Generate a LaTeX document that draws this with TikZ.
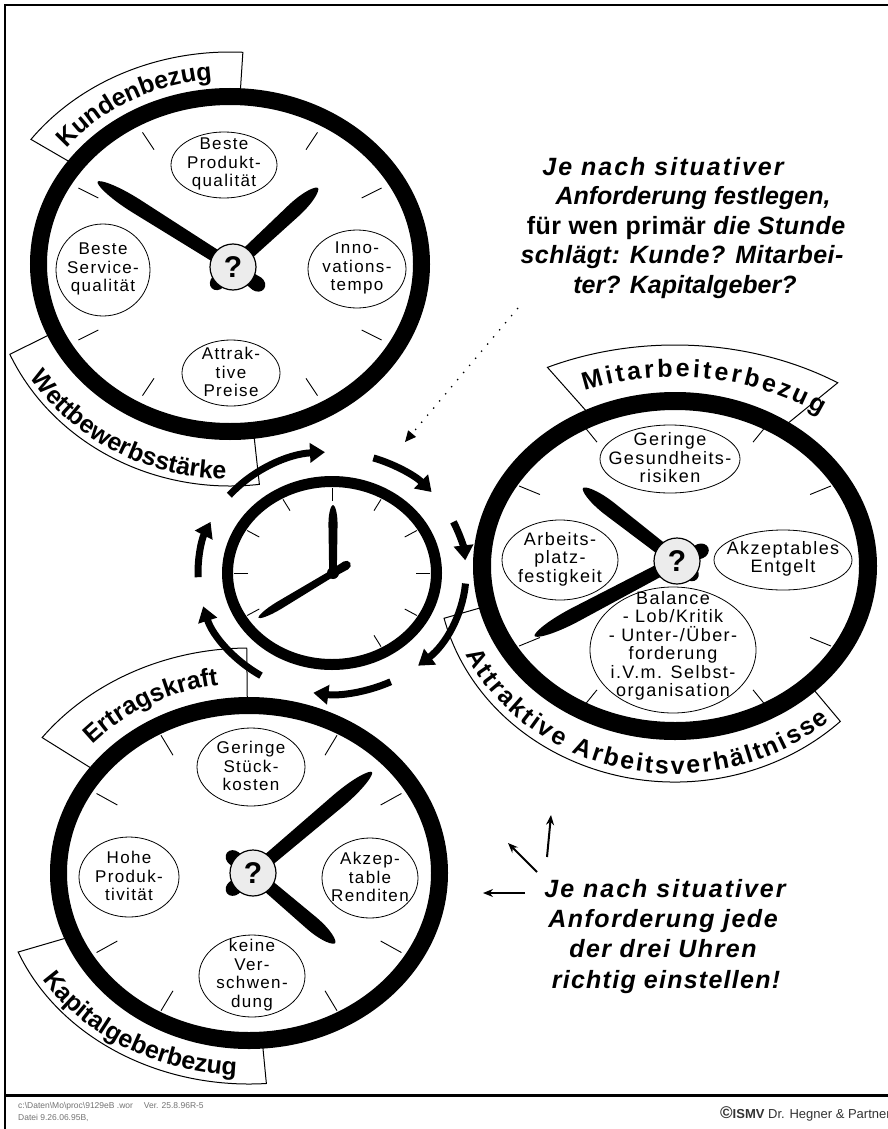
\documentclass[tikz,border=0pt]{standalone}
\usepackage{fontspec}
\setmainfont{Liberation Sans}
\usetikzlibrary{arrows.meta,decorations.text}
\newfontfamily\labfont[LetterSpace=8]{Liberation Sans}
\newfontfamily\bigfont[LetterSpace=2]{Liberation Sans}
\newfontfamily\plainsans{Liberation Sans}
\newcommand\bannerfnt{\fontsize{25}{25}\selectfont\plainsans\bfseries}
\newcommand\lsp[1]{\addfontfeature{LetterSpace=#1}}
% hand: #1 hub coordinate, #2 angle, #3 length, #4 half width
\newcommand\clockhand[4]{%
  \fill[shift={(#1)}, rotate=#2]
    (0,-#4) -- ({0.72*#3},{-1.2*#4})
    .. controls ({0.9*#3},{-1.2*#4}) and (#3,{-0.45*#4}) .. (#3,0)
    .. controls (#3,{0.45*#4}) and ({0.9*#3},{1.2*#4}) .. ({0.72*#3},{1.2*#4})
    -- (0,#4) -- cycle;}
% tail: #1 hub, #2 angle, #3 length
\newcommand\clocktail[3]{%
  \fill[shift={(#1)}, rotate=#2] (0,-5) -- ({#3-9},-7.5)
    arc[start angle=-90, end angle=90, x radius=9, y radius=7.5] -- (0,5) -- cycle;}
% banner: #1 centre, #2 t1, #3 t2, #4 outer rx, #5 outer ry, #6 inner rx, #7 inner ry
\newcommand\banner[7]{%
  \filldraw[banner, shift={(#1)}] (#2:#4 and #5)
    arc[start angle=#2, end angle=#3, x radius=#4, y radius=#5]
    -- (#3:#6 and #7)
    arc[start angle=#3, end angle=#2, x radius=#6, y radius=#7] -- cycle;}
% banner text: #1 centre, #2 t1, #3 t2, #4 rx, #5 ry, #6 alignment, #7 text
\newcommand\bannertext[7]{%
  \path[decorate, decoration={text along path, text={|\bannerfnt|#7}, text align={#6}}, shift={(#1)}]
    (#2:#4 and #5) arc[start angle=#2, end angle=#3, x radius=#4, y radius=#5];}
\begin{document}
\begin{tikzpicture}[x=1pt,y=1pt,
  banner/.style={draw, fill=white, line width=1},
  tickmark/.style={line width=0.9},
  labring/.style={line width=0.8},
  labtext/.style={align=center, inner sep=0, font=\labfont\fontsize{17}{18.5}\selectfont},
  labtextb/.style={align=center, inner sep=0, font=\labfont\fontsize{18}{18.5}\selectfont},
  hub/.style={circle, draw, line width=1.2, fill=gray!15, minimum size=46, inner sep=0,
    font=\plainsans\bfseries\fontsize{30}{30}\selectfont},
  cyc/.style={line width=7, -{Triangle[length=15pt,width=19pt]}},
  sarr/.style={line width=2, -{Stealth[length=10pt,width=8pt]}},
  bigtxt/.style={anchor=base, inner sep=0, font=\bigfont\bfseries\itshape\fontsize{25}{29.5}\selectfont}]
\useasboundingbox (0,0) rectangle (888,-1129);
\fill[white] (0,0) rectangle (888,-1129);
% frame
\draw[line width=2.5] (5,-1129) -- (5,-5) -- (888,-5);
\draw[line width=3] (5,-1095) -- (888,-1095);

\coordinate (C1) at (230,-264);
\coordinate (C2) at (675,-566);
\coordinate (C3) at (249,-873);
\coordinate (C0) at (332,-573);
\coordinate (H1) at (233,-267);
\coordinate (H2) at (677,-561);
\coordinate (H3) at (253,-873);
\coordinate (H0) at (333,-573);

% banners
\banner{C1}{144}{87}{246}{212}{196}{172}
\banner{C1}{204}{277}{241}{222}{196}{172}
\banner{C3}{143}{90.5}{259}{225}{195}{172}
\banner{C3}{202}{274}{249}{211}{195}{172}
\banner{C2}{116}{56}{291}{221}{198}{170}
\banner{C2}{194}{314}{238}{216}{198}{170}

\bannertext{C1}{150}{87}{209}{185}{center}{Kundenbezug}
\bannertext{C1}{200}{280}{235}{215}{center}{Wettbewerbsstärke}
\bannertext{C3}{145}{91}{213}{190}{center}{Ertragskraft}
\bannertext{C3}{200}{277}{242}{203}{center}{Kapitalgeberbezug}
\bannertext{C2}{112}{53}{242}{189}{fit to path}{Mitarbeiterbezug}
\bannertext{C2}{205}{312}{231}{208}{fit to path}{Attraktive Arbeitsverhältnisse}

% rings
\draw[line width=17] (C1) ellipse[x radius=191.5, y radius=167.5];
\draw[line width=18] (C2) ellipse[x radius=193, y radius=165];
\draw[line width=17] (C3) ellipse[x radius=190.5, y radius=167.5];
\draw[line width=11] (C0) ellipse[x radius=104.5, y radius=91.5];

% ticks
\foreach \a in {30,60,120,150,210,240,300,330}{
  \draw[tickmark, shift={(C1)}] (\a:152 and 132) -- (\a:175 and 152);
  \draw[tickmark, shift={(C2)}] (\a:156 and 143) -- (\a:180 and 160);
  \draw[tickmark, shift={(C3)}] (\a:152 and 136) -- (\a:176 and 159);
}
\foreach \a in {90,60,30,0,-30,-60,120,150,180,210}{
  \draw[tickmark, shift={(C0)}] (\a:84 and 72) -- (\a:98 and 85);
}

% label ellipses and texts, clock 1
\draw[labring] (224,-165) ellipse[x radius=53, y radius=33];
\node[labtext] (k1) at (224,-164) {Beste\\Produkt-\\qualität};
\draw[labring] (103,-270) ellipse[x radius=47, y radius=46];
\node[labtext] (k2) at (103,-269) {Beste\\Service-\\qualität};
\draw[labring] (357,-269) ellipse[x radius=49, y radius=39];
\node[labtext] (k3) at (357,-268) {Inno-\\vations-\\tempo};
\draw[labring] (231,-373) ellipse[x radius=49, y radius=33];
\node[labtext] (k4) at (231,-372) {Attrak-\\tive\\Preise};

% clock 2
\draw[labring] (670,-459) ellipse[x radius=70, y radius=34];
\node[labtextb] (m1) at (670,-458) {Geringe\\Gesundheits-\\risiken};
\draw[labring] (560,-560) ellipse[x radius=58, y radius=40];
\node[labtextb] (m2) at (560,-559) {Arbeits-\\platz-\\festigkeit};
\draw[labring] (783,-560) ellipse[x radius=69, y radius=30];
\node[labtextb] (m3) at (783,-559) {Akzeptables\\Entgelt};
\draw[labring] (673,-650) ellipse[x radius=83, y radius=63];
\node[labtextb] (m4) at (673,-646) {Balance\\- Lob/Kritik\\- Unter-/Über-\\forderung\\i.V.m. Selbst-\\organisation};

% clock 3
\draw[labring] (251,-767) ellipse[x radius=54, y radius=39];
\node[labtext] (e1) at (251,-766) {Geringe\\Stück-\\kosten};
\draw[labring] (129,-877) ellipse[x radius=50, y radius=40];
\node[labtext] (e2) at (129,-876) {Hohe\\Produk-\\tivität};
\draw[labring] (370,-878) ellipse[x radius=48, y radius=40];
\node[labtext] (e3) at (370,-877) {Akzep-\\table\\Renditen};
\draw[labring] (252,-976) ellipse[x radius=53, y radius=41];
\node[labtext] (e4) at (252,-975) {keine\\Ver-\\schwen-\\dung};

% hands
\clockhand{H1}{147.8}{160}{6.2}
\clockhand{H1}{42.9}{116}{6.2}
\clocktail{H1}{-35}{38}
\clocktail{H1}{-135}{30}
\clockhand{H2}{207.8}{161}{6.2}
\clockhand{H2}{142.2}{119}{6.2}
\clocktail{H2}{23}{34}
\clocktail{H2}{-42}{27}
\clockhand{H3}{40.3}{156}{6.2}
\clockhand{H3}{-40.5}{108}{6.2}
\clocktail{H3}{142}{33}
\clocktail{H3}{218}{33}
\clockhand{H0}{90}{68}{3.8}
\clockhand{H0}{211}{87}{3.4}
\fill[shift={(H0)}, rotate=30.5] (0,-4) -- (15,-4.5) arc[start angle=-90, end angle=90, x radius=5, y radius=4.5] -- (0,4) -- cycle;
\fill (H0) circle (6);

\node[hub] (q1) at (H1) {?};
\node[hub] (q2) at (H2) {?};
\node[hub] (q3) at (H3) {?};

% cycle arrows around central clock
\draw[cyc, shift={(C0)}] (140:134 and 121) arc[start angle=140, end angle=93, x radius=134, y radius=121];
\draw[cyc, shift={(C0)}] (72:134 and 121) arc[start angle=72, end angle=42, x radius=134, y radius=121];
\draw[cyc, shift={(C0)}] (25:134 and 121) arc[start angle=25, end angle=6, x radius=134, y radius=121];
\draw[cyc, shift={(C0)}] (-5:134 and 121) arc[start angle=-5, end angle=-50, x radius=134, y radius=121];
\draw[cyc, shift={(C0)}] (-64:134 and 121) arc[start angle=-64, end angle=-98, x radius=134, y radius=121];
\draw[cyc, shift={(C0)}] (-122:134 and 121) arc[start angle=-122, end angle=-164, x radius=134, y radius=121];
\draw[cyc, shift={(C0)}] (182:134 and 121) arc[start angle=182, end angle=155, x radius=134, y radius=121];

% top right text
\node[bigtxt] (t1) at (663,-175) {\lsp{8}Je nach situativer};
\node[bigtxt] (t2) at (693,-204.5) {\lsp{0}Anforderung festlegen,};
\node[bigtxt] (t3) at (686,-234) {{\upshape für wen primär} die Stunde};
\node[bigtxt] (t4) at (682,-263.5) {schlägt: Kunde? Mitarbei-};
\node[bigtxt] (t5) at (685,-293) {\lsp{0}ter? Kapitalgeber?};

% dotted arrow
\coordinate (dS) at (518,-308);
\coordinate (dE) at (405,-442);
\draw[line width=1.3, dash pattern=on 1.3pt off 8pt, -{Triangle[length=11pt,width=10pt]}] (dS) -- (dE);

% bottom right text and arrows
\node[bigtxt] (b1) at (665,-897) {\lsp{8}Je nach situativer};
\node[bigtxt] (b2) at (663,-927) {\lsp{6}Anforderung jede};
\node[bigtxt] (b3) at (663,-957.5) {\lsp{6}der drei Uhren};
\node[bigtxt] (b4) at (666,-988) {\lsp{5}richtig einstellen!};
\coordinate (a1s) at (525,-893); \coordinate (a1e) at (483,-893);
\coordinate (a2s) at (537,-872); \coordinate (a2e) at (508,-843);
\coordinate (a3s) at (547,-857); \coordinate (a3e) at (551,-815);
\draw[sarr] (a1s) -- (a1e);
\draw[sarr] (a2s) -- (a2e);
\draw[sarr] (a3s) -- (a3e);

% footer
\node[anchor=north west, inner sep=0, align=left, text=black!55,
  font=\plainsans\fontsize{8.5}{12}\selectfont] (f1) at (18,-1102)
  {c:\textbackslash Daten\textbackslash Mo\textbackslash proc\textbackslash 9129eB .wor \quad Ver. 25.8.96R-5\\Datei 9.26.06.95B,};
\node[anchor=base west, inner sep=0, text=black!80, font=\plainsans\fontsize{13}{13}\selectfont] (f2) at (720,-1118)
  {{\fontsize{17}{17}\selectfont\bfseries ©}{\bfseries ISMV} Dr. Hegner \& Partner};
\end{tikzpicture}
\end{document}
